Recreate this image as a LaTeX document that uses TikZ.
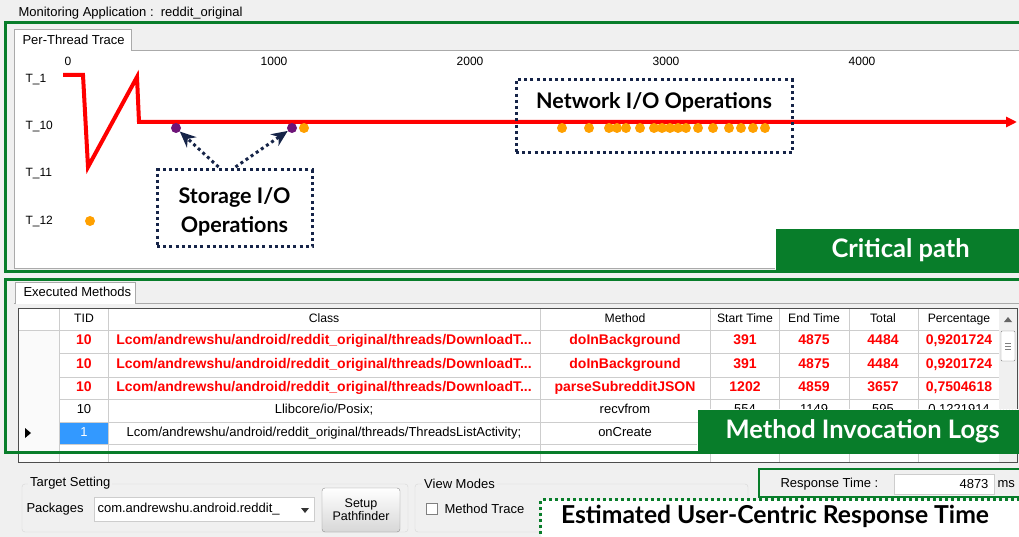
\documentclass[tikz,border=0pt]{standalone}
\usepackage{fontspec}
\setmainfont{Liberation Sans}
\newfontfamily\callfont{Lato}
\usetikzlibrary{arrows.meta}
\definecolor{framegreen}{RGB}{8,125,42}
\definecolor{wingray}{RGB}{240,240,240}
\definecolor{panelgray}{RGB}{170,170,170}
\definecolor{gridgray}{RGB}{205,205,205}
\definecolor{groupgray}{RGB}{215,215,215}
\definecolor{navyblue}{RGB}{22,36,72}
\definecolor{iopurple}{RGB}{110,20,120}
\definecolor{ioorange}{RGB}{255,160,0}
\definecolor{selblue}{RGB}{51,153,255}
\definecolor{btnbottom}{RGB}{215,215,215}

\begin{document}
\begin{tikzpicture}[x=1pt,y=-1pt,font=\fontsize{13}{15}\selectfont]
\tikzstyle{greenframe}=[draw=framegreen,line width=3pt]
\tikzstyle{callout}=[fill=framegreen,draw=white,line width=1.2pt,dash pattern=on 1.5pt off 1.5pt,
  text=white,font=\callfont\bfseries\fontsize{25.5}{29}\selectfont]
\tikzstyle{iobox}=[draw=navyblue,line width=3pt,dash pattern=on 3pt off 3.2pt]
\tikzstyle{iotext}=[font=\callfont\bfseries\fontsize{21.5}{29}\selectfont,align=center]
\tikzstyle{dot}=[circle,inner sep=0,minimum size=10pt]
\tikzstyle{cell}=[text height=9pt,text depth=3pt,font=\fontsize{13}{15}\selectfont]
\tikzstyle{hot}=[cell,text=red,font=\bfseries\fontsize{14}{16}\selectfont]
\tikzstyle{tick}=[font=\fontsize{12}{14}\selectfont]

\useasboundingbox (0,0) rectangle (1019,537);
\clip (0,0) rectangle (1019,537);
\fill[wingray] (0,0) rectangle (1019,537);
\node[anchor=west](app) at (15,13) {Monitoring Application :\ \ reddit\_original};

\draw[panelgray,fill=white] (14,50) rectangle (1030,268);
\draw[panelgray,fill=white] (14,51) -- (14,29) -- (131,29) -- (131,51);
\node[anchor=west](tabtrace) at (19,40) {Per-Thread Trace};
\foreach \t/\x in {0/68,1000/274,2000/470,3000/666,4000/862}
  \node(ax\t)[tick] at (\x,61) {\t};
\foreach \n/\y in {1/80,10/127,11/174,12/222}
  \node[tick,anchor=west](th\n) at (22,\y) {T\_\n};

\coordinate(c0) at (63,75);
\coordinate(c1) at (83,75);
\coordinate(c2) at (88,167);
\coordinate(c3) at (137,77);
\coordinate(c4) at (139,122);
\coordinate(c5) at (1017,122);
\draw[red,line width=4pt,-{Triangle[length=11pt,width=10pt]}] (c0) -- (c1) -- (c2) -- (c3) -- (c4) -- (c5);

\node(st1)[dot,fill=iopurple] at (176,128) {};
\node(st2)[dot,fill=iopurple] at (292,128) {};
\node(or1)[dot,fill=ioorange] at (304,128) {};
\node(or2)[dot,fill=ioorange] at (90,221) {};
\foreach \x [count=\i] in {562,589,609,617,626,640,654,662,670,678,686,698,713,729,741,753,765}
  \node(net\i)[dot,fill=ioorange] at (\x,128) {};

\node(netbox)[iobox,minimum width=276pt,minimum height=73pt] at (654,116.5) {};
\node(nettext)[iotext] at (654,102) {Network I/O Operations};
\node(stbox)[iobox,minimum width=155pt,minimum height=77pt] at (234.5,208.5) {};
\node(sttext)[iotext] at (234.5,211.5) {Storage I/O\\Operations};
\draw[iobox,-{Stealth[length=16pt,width=14pt]}] ([xshift=-16pt,yshift=1.5pt]stbox.north) -- (st1);
\draw[iobox,-{Stealth[length=16pt,width=14pt]}] ([xshift=1pt,yshift=1.5pt]stbox.north) -- (st2);

\node(crit)[callout,anchor=north west,minimum width=250pt,minimum height=43pt] at (775,228) {Critical path};
\draw[greenframe] (5,23) rectangle (1030,271);

\draw[panelgray] (14,303) -- (1030,303);
\draw[panelgray,fill=white] (15,304) -- (15,282) -- (135,282) -- (135,304);
\node[anchor=west](tabexec) at (20,292) {Executed Methods};
\fill[white] (18,308) rectangle (1000,462);
\fill[gray!4] (18,330) rectangle (59,462);
\foreach \x in {59,108,540,710,779,849,918}
  \draw[gridgray] (\x,308) -- (\x,462);
\draw[gridgray] (18,330) -- (999,330);
\foreach \y in {353,377,399,422,444}
  \draw[gridgray] (59,\y) -- (999,\y);
\fill[wingray] (999,308) rectangle (1017,462);
\fill[black!60] (1004,322) -- (1008,317) -- (1012,322) -- cycle;
\draw[gray,fill=white,rounded corners=1pt] (1001,331) rectangle (1015,361);
\foreach \y in {343,346,349}
  \draw[gray] (1005,\y) -- (1011,\y);
\draw[black!70] (18,308) rectangle (1017,462);

\foreach \c/\x [count=\i] in {TID/84,Class/324,Method/625,Start Time/745,End Time/814,Total/883,Percentage/959}
  \node(head\i)[cell,font=\fontsize{12.2}{14}\selectfont] at (\x,319) {\c};
\foreach \y/\m/\s/\e/\t/\p [count=\i] in {341/doInBackground/391/4875/4484/{0,9201724},
    365/doInBackground/391/4875/4484/{0,9201724},
    388/parseSubredditJSON/1202/4859/3657/{0,7504618}}{
  \node(tid\i)[hot] at (84,\y) {10};
  \node(cls\i)[hot] at (324,\y) {Lcom/andrewshu/android/reddit\_original/threads/DownloadT...};
  \node(mth\i)[hot] at (625,\y) {\m};
  \node(beg\i)[hot] at (745,\y) {\s};
  \node(end\i)[hot] at (814,\y) {\e};
  \node(tot\i)[hot] at (883,\y) {\t};
  \node(pct\i)[hot] at (959,\y) {\p};
}
\node(tid4)[cell] at (84,410.5) {10};
\node(cls4)[cell] at (324,410.5) {Llibcore/io/Posix;};
\node(mth4)[cell] at (625,410.5) {recvfrom};
\node(beg4)[cell] at (745,410.5) {554};
\node(end4)[cell] at (814,410.5) {1149};
\node(tot4)[cell] at (883,410.5) {595};
\node(pct4)[cell] at (959,410.5) {0.1221914};
\fill[selblue] (59.5,422.5) rectangle (107.5,443.5);
\fill[black] (25,428) -- (31,433) -- (25,438) -- cycle;
\node(tid5)[cell,text=white] at (84,433) {1};
\node(cls5)[cell] at (324,433) {Lcom/andrewshu/android/reddit\_original/threads/ThreadsListActivity;};
\node(mth5)[cell] at (625,433) {onCreate};

\node(mil)[callout,anchor=north west,minimum width=330pt,minimum height=44pt] at (697,409) {Method Invocation Logs};
\draw[greenframe] (5,279) rectangle (1030,452);

\draw[groupgray,rounded corners=3pt] (22,484) rectangle (408,532);
\node[fill=wingray,inner sep=2pt,anchor=west](tgt) at (28,483) {Target Setting};
\node[anchor=west](pkg) at (23,509) {Packages};
\node(combo)[draw=gridgray,fill=white,anchor=west,minimum width=220pt,minimum height=24pt] at (94,509) {};
\node[anchor=west](pkgname) at (94,509) {com.andrewshu.android.reddit\_};
\fill[black!80] (301,508) -- (309,508) -- (305,513) -- cycle;
\node(setup)[draw=black!45,rounded corners=3pt,top color=white,bottom color=btnbottom,
  minimum width=78pt,minimum height=44pt,align=center,font=\fontsize{12.5}{13}\selectfont] at (361,510) {Setup\\Pathfinder};
\draw[groupgray,rounded corners=3pt] (415,484) rectangle (748,532);
\node[fill=wingray,inner sep=2pt,anchor=west](vm) at (422,484) {View Modes};
\node(chk)[draw=gray,fill=white,minimum size=11pt,inner sep=0] at (432,509) {};
\node[anchor=west](mtrace) at (441,509) {Method Trace};

\draw[framegreen,line width=2.5pt] (759,469) rectangle (1030,497);
\node[anchor=west](rt) at (777,484) {Response Time :};
\node(rtfield)[draw=gridgray,fill=white,anchor=west,minimum width=100pt,minimum height=20pt] at (894,484) {};
\node[anchor=east](rtval) at (992,484) {4873};
\node[anchor=west](ms) at (994,484) {ms};

\node(est)[draw=framegreen,line width=3pt,dash pattern=on 3pt off 3pt,fill=white,anchor=north west,
  minimum width=490pt,minimum height=45pt] at (539,498) {};
\node(esttext)[iotext,font=\callfont\bfseries\fontsize{24.7}{29}\selectfont] at (775,516) {Estimated User-Centric Response Time};
\end{tikzpicture}
\end{document}
